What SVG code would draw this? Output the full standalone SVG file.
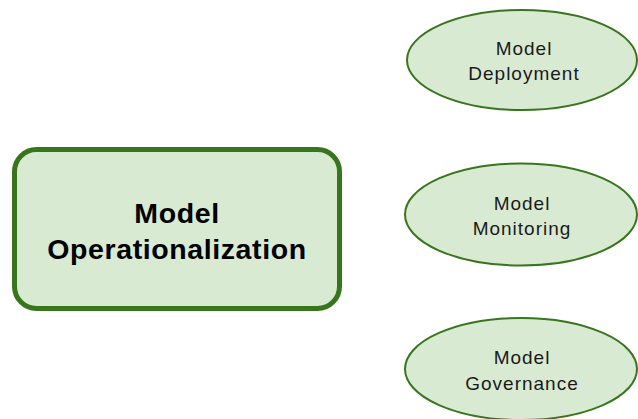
<svg xmlns="http://www.w3.org/2000/svg" width="638" height="419" viewBox="0 0 638 419">
<style>
.ell{fill:#d9ead3;stroke:#38761d;stroke-width:2}
.main{fill:#d9ead3;stroke:#38761d;stroke-width:5}
.t{font-family:"Liberation Sans",Arial,sans-serif;font-size:19px;letter-spacing:1px;fill:#1a1a1a;text-anchor:middle}
.tb{font-family:"Liberation Sans",Arial,sans-serif;font-size:28.5px;letter-spacing:0.6px;font-weight:bold;fill:#000;text-anchor:middle}
</style>
<rect width="638" height="419" fill="#ffffff"/>
<g id="connectors"></g>
<g id="node-main">
<rect class="main" x="14.5" y="149.5" width="325" height="159" rx="22" ry="22"/>
<text class="tb" x="177" y="223">Model</text>
<text class="tb" x="177" y="259">Operationalization</text>
</g>
<g id="node-deployment">
<ellipse class="ell" cx="522" cy="60" rx="115" ry="50"/>
<text class="t" x="524" y="55">Model</text>
<text class="t" x="524" y="80">Deployment</text>
</g>
<g id="node-monitoring">
<ellipse class="ell" cx="521" cy="214.5" rx="116" ry="51"/>
<text class="t" x="522" y="210">Model</text>
<text class="t" x="522" y="235">Monitoring</text>
</g>
<g id="node-governance">
<ellipse class="ell" cx="521" cy="369" rx="116" ry="51"/>
<text class="t" x="522" y="364">Model</text>
<text class="t" x="522" y="390">Governance</text>
</g>
</svg>
